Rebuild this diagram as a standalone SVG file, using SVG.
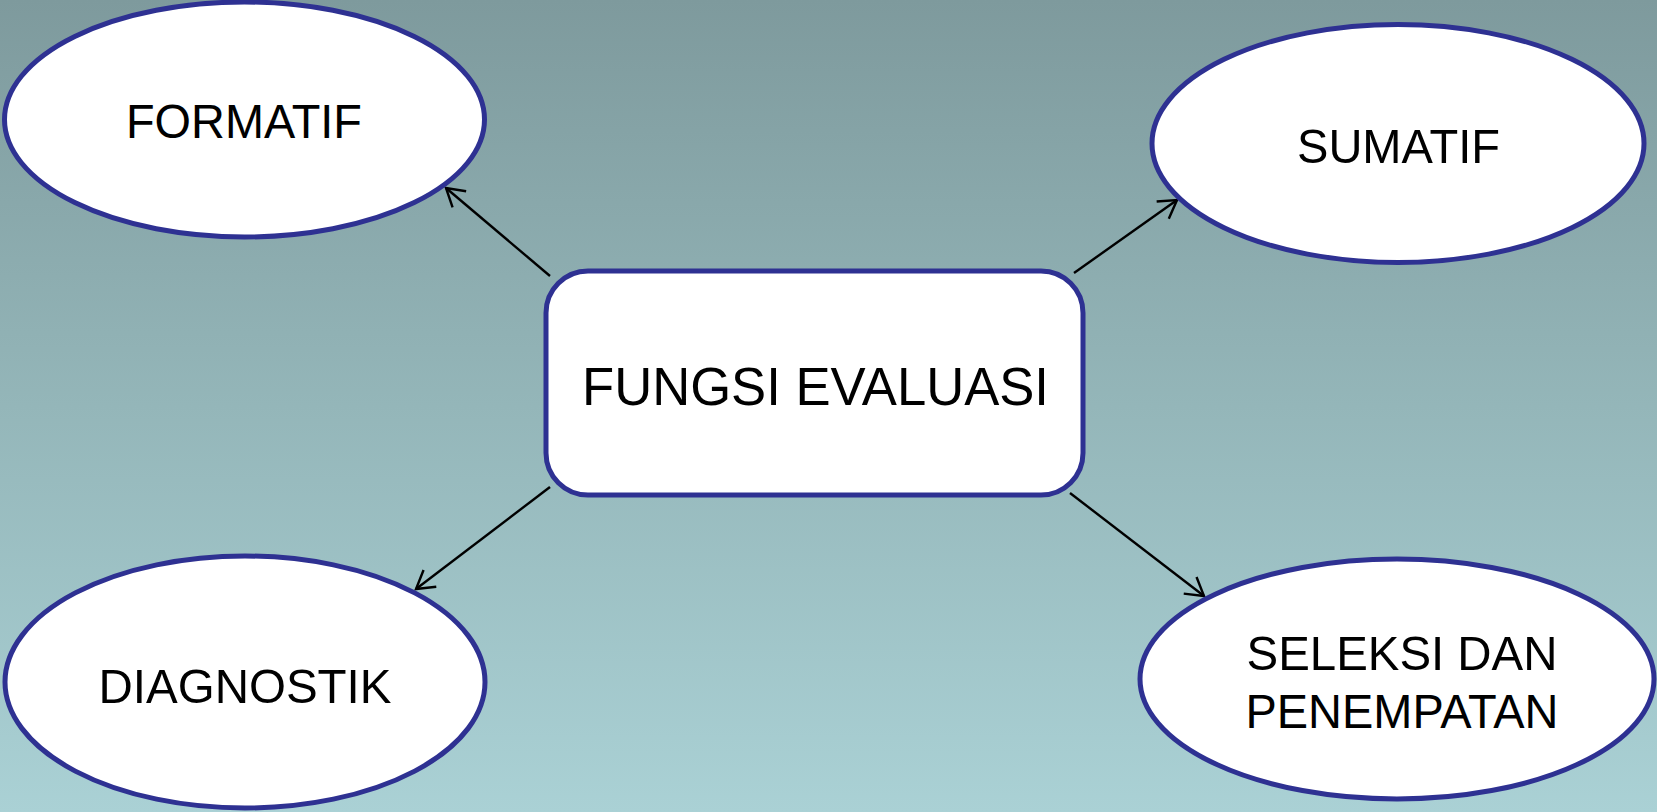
<svg xmlns="http://www.w3.org/2000/svg" width="1657" height="812" viewBox="0 0 1657 812">
  <defs>
    <linearGradient id="bg" x1="0" y1="0" x2="0" y2="1">
      <stop offset="0" stop-color="#7e9a9d"/>
      <stop offset="0.5" stop-color="#94b6b9"/>
      <stop offset="1" stop-color="#aad1d5"/>
    </linearGradient>
    <marker id="open-arrow" markerUnits="userSpaceOnUse" viewBox="-22 -13 25 26" markerWidth="25" markerHeight="26" refX="0" refY="0" orient="auto">
      <path d="M-17.5,-10.5 L0,0 L-17.5,10.5" fill="none" stroke="#000" stroke-width="2.4"/>
    </marker>
    <style>
      .node { fill: #ffffff; stroke: #2e3192; stroke-width: 5; }
      .label { font-family: "Liberation Sans", Arial, sans-serif; fill: #000; text-anchor: middle; }
      .small { font-size: 49px; }
      .big { font-size: 53px; }
      .edge { stroke: #000; stroke-width: 2.4; fill: none; marker-end: url(#open-arrow); }
    </style>
  </defs>

  <rect x="0" y="0" width="1657" height="812" fill="url(#bg)"/>

  <!-- connectors from the central box to each function -->
  <g id="connectors">
    <line class="edge" x1="550" y1="276" x2="446" y2="188"/>
    <line class="edge" x1="1074" y1="273" x2="1177" y2="200"/>
    <line class="edge" x1="550" y1="487" x2="416" y2="589"/>
    <line class="edge" x1="1070" y1="493" x2="1204" y2="596"/>
  </g>

  <g id="node-formatif">
    <ellipse class="node" cx="244.5" cy="119.5" rx="240" ry="117.5"/>
    <text class="label small" x="244" y="137.5" textLength="236" lengthAdjust="spacingAndGlyphs">FORMATIF</text>
  </g>

  <g id="node-sumatif">
    <ellipse class="node" cx="1398" cy="143.5" rx="246" ry="119"/>
    <text class="label small" x="1398.5" y="163" textLength="203" lengthAdjust="spacingAndGlyphs">SUMATIF</text>
  </g>

  <g id="node-fungsi-evaluasi">
    <rect class="node" x="546" y="271" width="537" height="224" rx="42" ry="42"/>
    <text class="label big" x="815.5" y="405" textLength="467" lengthAdjust="spacingAndGlyphs">FUNGSI EVALUASI</text>
  </g>

  <g id="node-diagnostik">
    <ellipse class="node" cx="245" cy="682" rx="240" ry="126"/>
    <text class="label small" x="245" y="703" textLength="293" lengthAdjust="spacingAndGlyphs">DIAGNOSTIK</text>
  </g>

  <g id="node-seleksi">
    <ellipse class="node" cx="1397" cy="679" rx="257" ry="120"/>
    <text class="label small" x="1402" y="670" textLength="311" lengthAdjust="spacingAndGlyphs">SELEKSI DAN</text>
    <text class="label small" x="1402" y="728" textLength="313" lengthAdjust="spacingAndGlyphs">PENEMPATAN</text>
  </g>
</svg>
